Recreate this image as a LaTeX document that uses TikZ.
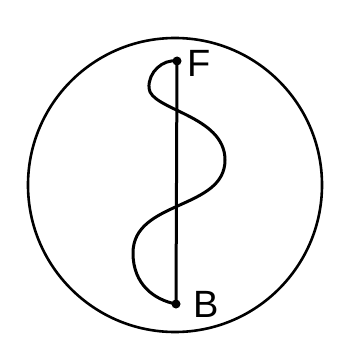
\documentclass[tikz,border=0pt]{standalone}
\usepackage{fontspec}
\setmainfont{Liberation Sans}
\usetikzlibrary{positioning}

\begin{document}
\begin{tikzpicture}[
    x=1pt, y=-1pt,
    node distance=7pt,
    dotnode/.style={circle, fill, inner sep=0pt, minimum size=9pt},
    lbl/.style={inner sep=0pt, font=\fontsize{38}{38}\selectfont},
    myline/.style={line width=3pt, line cap=round, line join=round}
]
\useasboundingbox (0,0) rectangle (340,361);

\draw[line width=2.6pt] (175,185) circle (147);

\node[dotnode] (F) at (177,61) {};
\node[dotnode] (B) at (176,304) {};
\node[lbl] (Flbl) [right=6pt of F, yshift=-2pt] {F};
\node[lbl] (Blbl) [right=13pt of B] {B};

\draw[myline] (F.center) -- (B.center);
\draw[myline] (F.center) .. controls (163,59) and (148,72) .. (149,88)
    .. controls (150,110) and (225,115) .. (225,160)
    .. controls (225,210) and (133,200) .. (133,253)
    .. controls (133,285) and (155,300) .. (B.center);
\end{tikzpicture}
\end{document}
